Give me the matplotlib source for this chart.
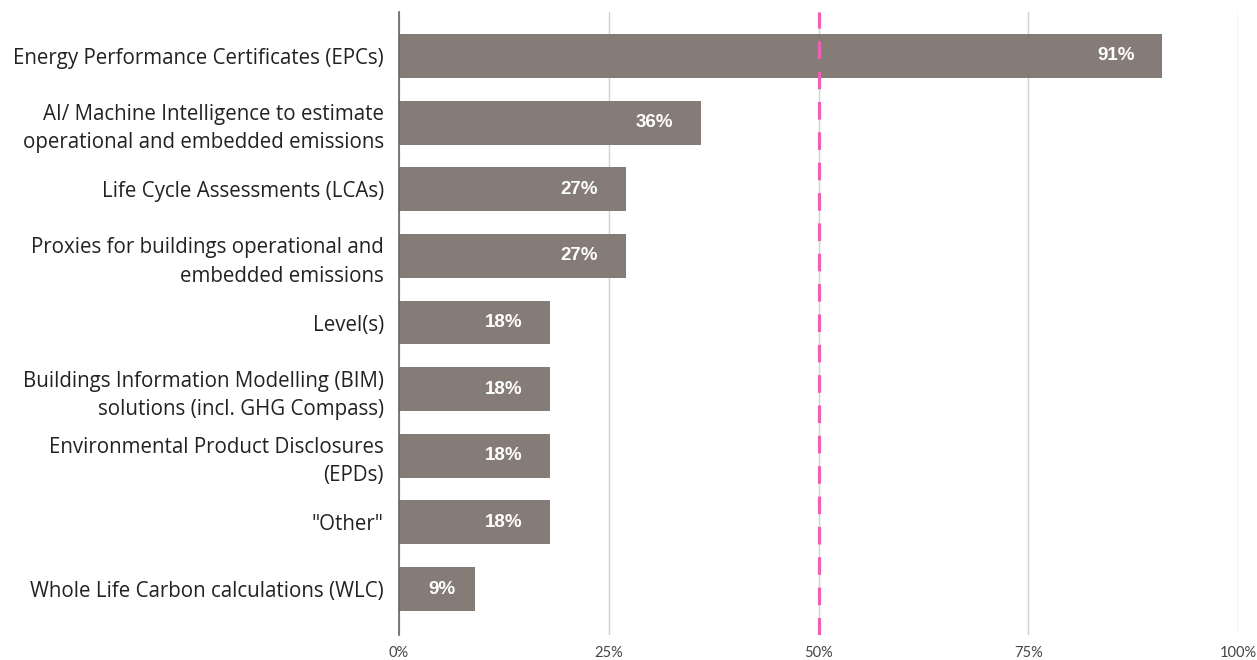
import matplotlib
matplotlib.use("Agg")
import matplotlib.pyplot as plt
import numpy as np

categories = [
    "Energy Performance Certificates (EPCs)",
    "AI/ Machine Intelligence to estimate\noperational and embedded emissions",
    "Life Cycle Assessments (LCAs)",
    "Proxies for buildings operational and\nembedded emissions",
    "Level(s)",
    "Buildings Information Modelling (BIM)\nsolutions (incl. GHG Compass)",
    "Environmental Product Disclosures\n(EPDs)",
    "\"Other\"",
    "Whole Life Carbon calculations (WLC)",
]
values = [91, 36, 27, 27, 18, 18, 18, 18, 9]
tick_values = [0, 25, 50, 75, 100]
tick_labels = ["0%", "25%", "50%", "75%", "100%"]
reference_line = 50

fig = plt.figure(figsize=(12.57, 6.6), dpi=100)
ax = fig.add_axes([399/1257, 1 - 635/660, (1238-399)/1257, (635-12)/660])

y = np.arange(len(categories))
bar_color = "#857c77"
ax.barh(y, values, height=0.66, color=bar_color, zorder=3)

for yi, v in zip(y, values):
    off = -20 if v > 12 else -14
    ax.annotate(f"{v}%", xy=(v, yi), xytext=(off, 0), textcoords="offset points",
                ha="right", va="center", color="white", fontsize=13.5,
                fontweight="bold", family="Liberation Sans", zorder=5)

ax.axvline(reference_line, color="#ee5fb6", linewidth=2.3, linestyle=(0, (5.5, 4)), zorder=4)

ax.set_xlim(0, 100)
ax.set_ylim(8.69, -0.66)
ax.set_xticks(tick_values)
ax.set_xticklabels(tick_labels, family="Lato", fontsize=10.5, color="#444444")
ax.set_yticks(y)
ax.set_yticklabels(categories, family="Open Sans", fontsize=14.8, color="#222222", linespacing=1.45)
ax.tick_params(axis="both", length=0)
ax.tick_params(axis="y", pad=11)
ax.tick_params(axis="x", pad=8)
ax.grid(axis="x", color="#d0d0d0", linewidth=1, zorder=0)
for s in ["top", "right", "bottom"]:
    ax.spines[s].set_visible(False)
ax.spines["left"].set_color("#666666")
ax.spines["left"].set_linewidth(1.2)
ax.spines["left"].set_zorder(6)

fig.savefig("out.png", dpi=100)
